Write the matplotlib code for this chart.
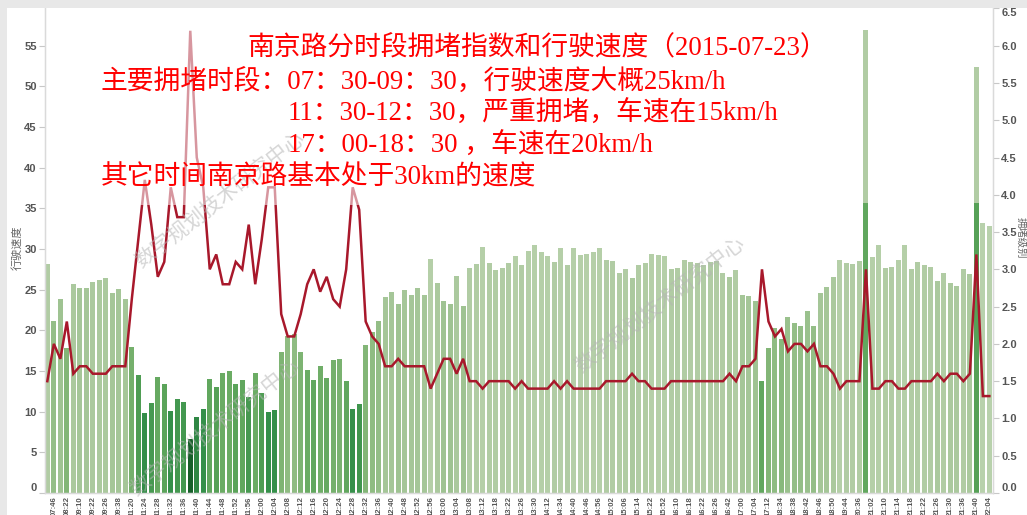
import numpy as np
import matplotlib
matplotlib.use('Agg')
import matplotlib.pyplot as plt
from matplotlib.colors import LinearSegmentedColormap, Normalize
from matplotlib.patches import Rectangle

# ---------------- data ----------------
speed = [28.2, 21.2, 23.8, 17.8, 25.7, 25.2, 25.2, 26.0, 26.2, 26.5,
         24.6, 25.1, 23.9, 18.0, 14.5, 9.9, 11.1, 14.3, 13.4, 10.1,
         11.5, 11.2, 6.6, 9.3, 10.3, 14.0, 13.0, 14.8, 15.0, 13.4,
         13.9, 11.8, 14.7, 12.3, 10.0, 10.2,
         17.3, 19.3, 19.6, 17.3, 15.1, 13.9, 15.6, 14.2, 16.4, 16.5,
         13.8, 10.3, 10.9, 18.2, 19.8, 21.1, 24.1, 24.7, 23.2, 25.0,
         24.4, 25.2, 24.3, 28.8, 25.8, 23.6, 23.2, 26.7, 23.0, 27.7,
         28.2, 30.3, 28.3, 27.4, 27.7, 28.3, 29.2,
         28.1, 29.8, 30.5, 29.6, 29.1, 28.4, 30.1, 28.0, 30.1, 29.3,
         29.4, 29.6, 30.1, 28.6, 28.5, 27.0, 27.5, 26.4, 28.1, 28.3,
         29.4, 29.3, 29.1, 27.6, 27.7, 28.6, 28.4, 28.3, 28.0, 28.4,
         28.5, 27.1, 26.6, 27.4, 24.4, 24.2,
         23.6, 13.8, 17.8, 20.3, 18.9, 21.6, 20.9, 20.5, 22.4, 20.5,
         24.6, 25.3, 26.6, 28.7, 28.3, 28.2, 28.5, 35.7, 29.0, 30.5,
         27.7, 27.8, 28.7, 30.5, 27.6, 28.4, 28.0, 27.8, 26.1, 27.0,
         25.8, 25.5, 27.6, 26.9, 35.7, 33.2, 32.8]

congestion = [1.5, 2.0, 1.8, 2.3, 1.6, 1.7, 1.7, 1.6, 1.6, 1.6, 1.7, 1.7, 1.7,
              2.6, 3.4, 4.2, 3.6, 2.9, 3.1, 4.1, 3.7, 3.7, 6.2,
              4.5, 4.1, 3.0, 3.2, 2.8, 2.8, 3.1, 3.0, 3.6, 2.8,
              3.4, 4.1, 4.1,
              2.4, 2.1, 2.1, 2.4, 2.8, 3.0, 2.7, 2.9, 2.6, 2.5,
              3.0, 4.1, 3.8, 2.3, 2.1, 2.0, 1.7, 1.7, 1.8, 1.7,
              1.7, 1.7, 1.7, 1.4, 1.6, 1.8, 1.8, 1.6, 1.8, 1.5,
              1.5, 1.4, 1.5, 1.5, 1.5, 1.5, 1.4,
              1.5, 1.4, 1.4, 1.4, 1.4, 1.5, 1.4, 1.5, 1.4, 1.4,
              1.4, 1.4, 1.4, 1.5, 1.5, 1.5, 1.5, 1.6, 1.5, 1.5,
              1.4, 1.4, 1.4, 1.5, 1.5, 1.5, 1.5, 1.5, 1.5, 1.5,
              1.5, 1.5, 1.6, 1.5, 1.7, 1.7,
              1.8, 3.0, 2.3, 2.1, 2.2, 1.9, 2.0, 2.0, 1.9, 2.0,
              1.7, 1.7, 1.6, 1.4, 1.5, 1.5, 1.5, 3.0, 1.4, 1.4,
              1.5, 1.5, 1.4, 1.4, 1.5, 1.5, 1.5, 1.5, 1.6, 1.5,
              1.6, 1.6, 1.5, 1.6, 3.2, 1.3, 1.3]

# second (overlapping) speed records at two time slots: bar number -> speed
extra_speed = {127: 57.0, 144: 52.4}
extra_level = 1.5

tick_labels = ['07:46', '08:22', '09:10', '09:22', '09:26', '09:38', '11:20', '11:24',
               '11:28', '11:32', '11:36', '11:40', '11:44', '11:48', '11:52', '11:56',
               '12:00', '12:04', '12:08', '12:12', '12:16', '12:20', '12:24', '12:28',
               '12:32', '12:36', '12:40', '12:48', '12:52', '12:56', '13:00', '13:04',
               '13:08', '13:12', '13:18', '13:22', '13:26', '13:30', '14:12', '14:34',
               '14:40', '14:46', '14:56', '15:02', '15:06', '15:14', '15:22', '15:52',
               '16:10', '16:18', '16:22', '16:26', '16:42', '17:00', '17:04', '17:12',
               '18:34', '18:38', '18:42', '18:46', '18:50', '19:44', '20:36', '21:02',
               '21:10', '21:14', '21:18', '21:22', '21:26', '21:30', '21:36', '21:40',
               '22:04']

left_ticks = [0, 5, 10, 15, 20, 25, 30, 35, 40, 45, 50, 55]
right_ticks = [0.0, 0.5, 1.0, 1.5, 2.0, 2.5, 3.0, 3.5, 4.0, 4.5, 5.0, 5.5, 6.0, 6.5]

title_lines = ['南京路分时段拥堵指数和行驶速度（2015-07-23）',
               '主要拥堵时段：07：30-09：30，行驶速度大概25km/h',
               '11：30-12：30，严重拥堵，车速在15km/h',
               '17：00-18：30 ，车速在20km/h',
               '其它时间南京路基本处于30km的速度']
watermark = '数字规划技术研究中心'

# ---------------- figure ----------------
W, H = 1027, 515
fig = plt.figure(figsize=(W / 100, H / 100), dpi=100)
fig.patch.set_facecolor('white')

def px(x, y):
    return x / W, 1 - y / H

# gray dashboard frame
fig.patches.append(Rectangle((0, 1 - 8 / H), 1, 8 / H, transform=fig.transFigure,
                             facecolor='#e8e8e8', edgecolor='none', zorder=0))
fig.patches.append(Rectangle((0, 0), 7 / W, 1, transform=fig.transFigure,
                             facecolor='#e8e8e8', edgecolor='none', zorder=0))

L, R, T, B = 45, 993, 8.4, 493
ax = fig.add_axes([L / W, 1 - B / H, (R - L) / W, (B - T) / H])
ax2 = ax.twinx()

n = len(speed)
x = np.arange(n)

anchors = [(1.3, '#b8d1ac'), (1.5, '#b1cca4'), (1.7, '#a4c697'), (2.0, '#94be87'),
           (2.3, '#83b677'), (2.8, '#6bac64'), (3.2, '#56a157'), (4.1, '#35904a'),
           (6.2, '#17602a')]
lo, hi = anchors[0][0], anchors[-1][0]
cmap = LinearSegmentedColormap.from_list('grn', [((v - lo) / (hi - lo), c) for v, c in anchors])
norm = Normalize(lo, hi)
colors = [cmap(norm(v)) for v in congestion]

bw = 0.77
ex_x = [k - 1 for k in extra_speed]
ex_y = list(extra_speed.values())
ax.bar(ex_x, ex_y, width=bw, color=cmap(norm(extra_level)), zorder=1)
ax.bar(x, speed, width=bw, color=colors, zorder=2)

ax.set_xlim(-0.36, n - 1 + 0.56)
ax.set_ylim(0, 59.6)
ax2.set_ylim(0, 6.5)

ax2.plot(x, congestion, color='#a8182b', lw=1.8, zorder=3, solid_joinstyle='miter')

# semi-transparent white behind annotation text
x0, y0 = 100, 28
x1, y1 = 840, 205
ax2.add_patch(Rectangle((x0 / W, 1 - y1 / H), (x1 - x0) / W, (y1 - y0) / H,
                        transform=fig.transFigure, facecolor='white', alpha=0.55,
                        edgecolor='none', zorder=5))

# axes styling
for a in (ax, ax2):
    a.spines['top'].set_visible(False)
    for s in ('left', 'right', 'bottom'):
        a.spines[s].set_color('#dadada')
        a.spines[s].set_linewidth(0.9)
ax.patch.set_alpha(0)

ax.set_yticks(left_ticks)
ax.set_yticklabels([str(t) for t in left_ticks])
ax.tick_params(axis='y', length=4, width=0.8, color='#c8c8c8', pad=2,
               labelsize=8, labelcolor='#555555')
ax2.set_yticks(right_ticks)
ax2.set_yticklabels(['%.1f' % t for t in right_ticks])
ax2.tick_params(axis='y', length=4, width=0.8, color='#c8c8c8', pad=2,
                labelsize=8, labelcolor='#555555')
for lab in ax.get_yticklabels() + ax2.get_yticklabels():
    lab.set_fontweight('bold')
    lab.set_family('Liberation Sans')
ax.get_yticklabels()[0].set_va('bottom')
ax2.get_yticklabels()[0].set_va('bottom')
ax2.get_yticklabels()[-1].set_va('top')

ax.set_xticks(np.arange(1, n, 2))
ax.set_xticklabels(tick_labels, rotation=90, fontsize=5.6, color='#555555',
                   fontweight='bold', family='Liberation Sans')
ax.tick_params(axis='x', length=0, pad=2.5)

cjk = ['Noto Sans CJK SC', 'DejaVu Sans']
fig.text(*px(17, 248), '行驶速度', rotation=90, fontsize=8, color='#666666',
         ha='center', va='center', family=cjk)
fig.text(*px(1021, 238), '拥堵级别', rotation=270, fontsize=7.5, color='#666666',
         ha='center', va='center', family=cjk)

# annotation text
tfam = ['Liberation Serif', 'Noto Sans CJK SC', 'DejaVu Sans']
pos = [(247, 48), (101, 82), (288, 114), (288, 146), (101, 178)]
for (tx, ty), s in zip(pos, title_lines):
    fig.text(*px(tx, ty), s, color='#ff0000', fontsize=19.3, ha='left', va='center',
             family=tfam, zorder=10)

# watermarks
for cx, cy in [(220, 200), (215, 428), (660, 305)]:
    fig.text(*px(cx, cy), watermark, rotation=38, rotation_mode='anchor', fontsize=15,
             color='#b4b4b4', alpha=0.55, ha='center', va='center', family=cjk, zorder=9)

fig.savefig('out.png', dpi=100)
